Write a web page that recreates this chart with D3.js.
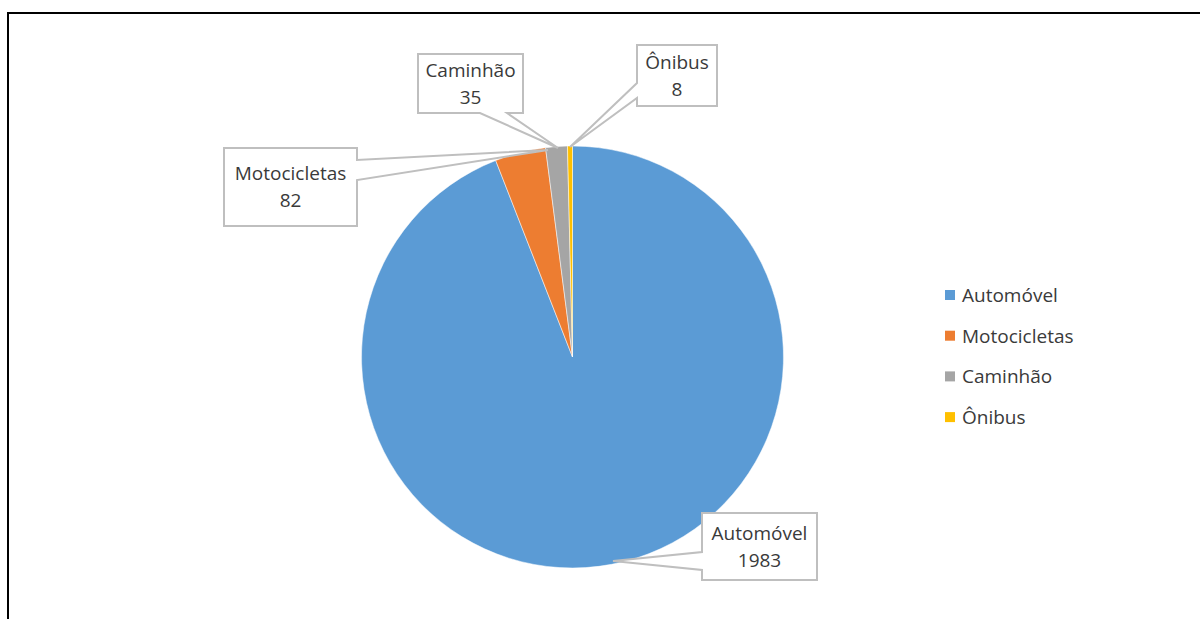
<!DOCTYPE html>
<html>
<head>
<meta charset="utf-8">
<script src="https://cdn.jsdelivr.net/npm/d3@7"></script>
<style>
  html, body { margin: 0; padding: 0; background: #fff; }
  svg { display: block; }
  text { font-family: "Open Sans", "Noto Sans", sans-serif; fill: #3a3a3a; }
</style>
</head>
<body>
<svg id="chart" width="1200" height="619"></svg>
<script>
// Vehicle fleet by type
const categories = ["Automóvel", "Motocicletas", "Caminhão", "Ônibus"];
const values = [1983, 82, 35, 8];
const colors = ["#5B9BD5", "#ED7D31", "#A5A5A5", "#FFC000"];

// Callout boxes: box corners, side of the pointer, pointer base span and tip
const callouts = [
  { box: [702, 513, 817, 580], side: "left",   base: [552, 570], tip: [613, 561] },
  { box: [224, 148, 357, 226], side: "right",  base: [160, 180], tip: [548, 150] },
  { box: [418, 54, 523, 113],  side: "bottom", base: [480, 507], tip: [558, 148] },
  { box: [637, 45, 717, 106],  side: "left",   base: [83, 98],   tip: [570, 147] }
];

const svg = d3.select("#chart");

// Outer frame
svg.append("rect")
  .attr("x", 8).attr("y", 13)
  .attr("width", 1300).attr("height", 700)
  .attr("fill", "none").attr("stroke", "#000").attr("stroke-width", 2);

const cx = 572.5, cy = 357, r = 211;

const data = categories.map((c, i) => ({ name: c, value: values[i], color: colors[i] }));

const pie = d3.pie().sort(null).value(d => d.value).startAngle(0).endAngle(2 * Math.PI);
const arc = d3.arc().innerRadius(0).outerRadius(r);

const g = svg.append("g").attr("transform", `translate(${cx},${cy})`);
g.selectAll("path.slice")
  .data(pie(data))
  .join("path")
  .attr("class", "slice")
  .attr("d", arc)
  .attr("fill", d => d.data.color)
  .attr("stroke", "#fff")
  .attr("stroke-width", 0.5);

// Callout outline with a pointer wedge
function calloutPath(c) {
  const [x0, y0, x1, y1] = c.box;
  const [a, b] = c.base;
  const [tx, ty] = c.tip;
  const p = d3.path();
  p.moveTo(x0, y0);
  p.lineTo(x1, y0);
  if (c.side === "right") {
    p.lineTo(x1, a); p.lineTo(tx, ty); p.lineTo(x1, b);
    p.lineTo(x1, y1); p.lineTo(x0, y1);
  } else if (c.side === "bottom") {
    p.lineTo(x1, y1); p.lineTo(b, y1); p.lineTo(tx, ty); p.lineTo(a, y1);
    p.lineTo(x0, y1);
  } else {
    p.lineTo(x1, y1); p.lineTo(x0, y1);
    p.lineTo(x0, b); p.lineTo(tx, ty); p.lineTo(x0, a);
  }
  p.closePath();
  return p.toString();
}

const labels = svg.append("g");
data.forEach((d, i) => {
  const c = callouts[i];
  labels.append("path")
    .attr("d", calloutPath(c))
    .attr("fill", "#fff")
    .attr("stroke", "#BFBFBF")
    .attr("stroke-width", 2)
    .attr("stroke-linejoin", "miter");
  const mx = (c.box[0] + c.box[2]) / 2;
  const my = (c.box[1] + c.box[3]) / 2;
  const t = labels.append("text")
    .attr("text-anchor", "middle")
    .attr("font-size", 19);
  t.append("tspan").attr("x", mx).attr("y", my - 7).text(d.name);
  t.append("tspan").attr("x", mx).attr("y", my + 20).text(d3.format("d")(d.value));
});

// Legend
const legend = svg.append("g").attr("transform", "translate(945,295)");
const rowH = 40.7;
const items = legend.selectAll("g")
  .data(data)
  .join("g")
  .attr("transform", (d, i) => `translate(0,${i * rowH})`);
items.append("rect")
  .attr("x", 0).attr("y", -5)
  .attr("width", 10).attr("height", 10)
  .attr("fill", d => d.color);
items.append("text")
  .attr("x", 17).attr("y", 7)
  .attr("font-size", 19)
  .text(d => d.name);
</script>
</body>
</html>
